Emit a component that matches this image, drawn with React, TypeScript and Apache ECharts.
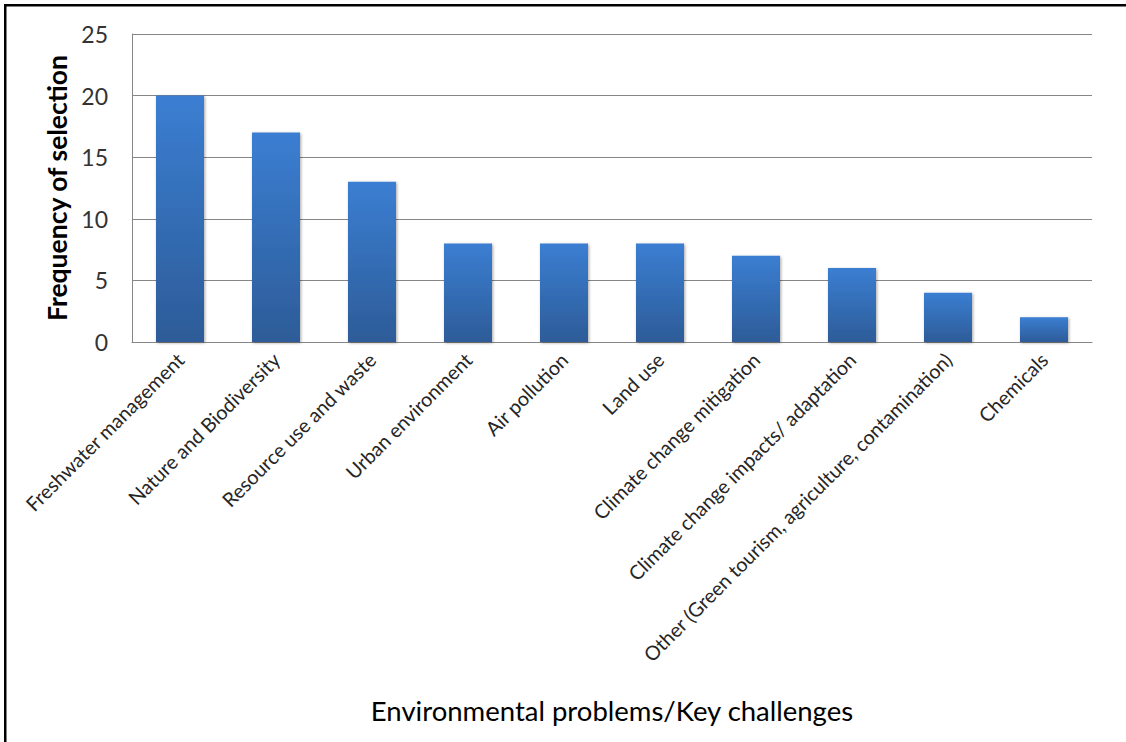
import React, { useEffect, useRef } from "react";
import * as echarts from "echarts";

const categories = [
  "Freshwater management",
  "Nature and Biodiversity",
  "Resource use and waste",
  "Urban environment",
  "Air pollution",
  "Land use",
  "Climate change mitigation",
  "Climate change impacts/ adaptation",
  "Other (Green tourism, agriculture, contamination)",
  "Chemicals",
];
const frequencies = [20, 17, 13, 8, 8, 8, 7, 6, 4, 2];
const yTitle = "Frequency of selection";
const xTitle = "Environmental problems/Key challenges";

export default function App() {
  const ref = useRef<HTMLDivElement>(null);
  useEffect(() => {
    document.body.style.margin = "0";
    const chart = echarts.init(ref.current!, null, { renderer: "svg" });
    chart.setOption({
      animation: false,
      backgroundColor: "#ffffff",
      textStyle: { fontFamily: "Lato" },
      grid: { left: 132, right: 34, top: 34, bottom: 400, containLabel: false },
      xAxis: {
        type: "category",
        data: categories,
        axisLine: { show: true, lineStyle: { color: "#868686", width: 1 } },
        axisTick: { show: false },
        axisLabel: {
          rotate: 45,
          interval: 0,
          margin: 14,
          fontSize: 19.8,
          color: "#262626",
          fontFamily: "Lato",
        },
        name: xTitle,
        nameLocation: "middle",
        nameGap: 354,
        nameTextStyle: { fontSize: 27.5, fontWeight: "normal", color: "#000", fontFamily: "Lato" },
      },
      yAxis: {
        type: "value",
        min: 0,
        max: 25,
        interval: 5,
        axisLine: { show: true, lineStyle: { color: "#868686", width: 1 } },
        axisTick: { show: false },
        splitLine: { show: true, lineStyle: { color: "#868686", width: 1 } },
        axisLabel: { fontSize: 23, color: "#333", margin: 24, fontFamily: "Lato" },
        name: yTitle,
        nameLocation: "middle",
        nameGap: 58,
        nameTextStyle: { fontSize: 26.5, fontWeight: "bold", color: "#000", fontFamily: "Lato" },
      },
      series: [
        {
          type: "bar",
          data: frequencies,
          barWidth: "50%",
          itemStyle: {
            color: new echarts.graphic.LinearGradient(0, 0, 0, 1, [
              { offset: 0, color: "#3b7ed2" },
              { offset: 1, color: "#2d5c98" },
            ]),
            shadowBlur: 3,
            shadowColor: "rgba(0,0,0,0.35)",
            shadowOffsetX: 1,
            shadowOffsetY: 1,
          },
        },
      ],
      graphic: [
        { type: "rect", shape: { x: 4, y: 4, width: 1122, height: 2.5 }, style: { fill: "#000" } },
        { type: "rect", shape: { x: 4, y: 4, width: 2.5, height: 738 }, style: { fill: "#000" } },
      ],
    });
    return () => chart.dispose();
  }, []);
  return (
    <div
      ref={ref}
      style={{ position: "absolute", left: 0, top: 0, width: 1126, height: 742 }}
    />
  );
}
